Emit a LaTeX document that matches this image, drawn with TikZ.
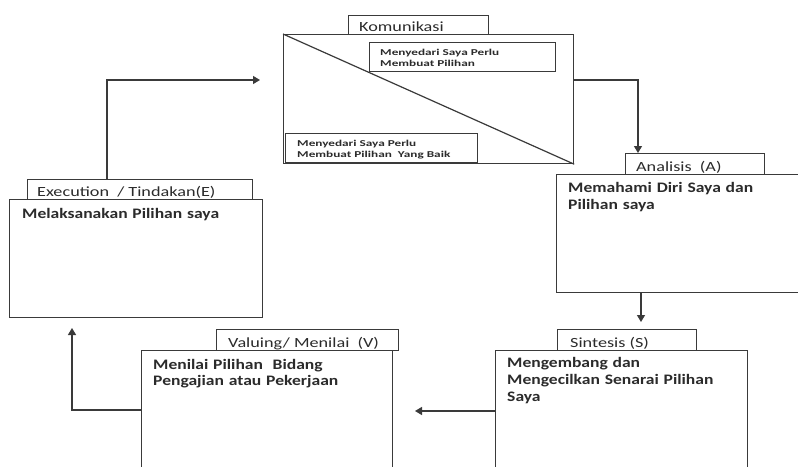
\documentclass[tikz,border=0pt]{standalone}
\usepackage{fontspec}
\setmainfont{Carlito}
\newfontfamily\labfont{Carlito}[FakeStretch=1.3]
\newfontfamily\bodyfont{Carlito}[FakeStretch=1.21]
\newfontfamily\smallfont{Carlito}[FakeStretch=1.47]
\usetikzlibrary{arrows.meta}
\definecolor{ln}{HTML}{3A3A3A}
\definecolor{tx}{HTML}{2B2B2B}
\tikzset{
  box/.style={draw=ln,line width=1.2pt,fill=white,inner sep=0pt,anchor=north west},
  arr/.style={draw=ln,line width=1.2pt,-{Triangle[length=7pt,width=8pt]}},
  plain/.style={draw=ln,line width=1.2pt},
  labtxt/.style={anchor=base west,inner sep=0pt,text=tx,font=\labfont\fontsize{14}{16}\selectfont},
  bodytxt/.style={anchor=base west,inner sep=0pt,text=tx,text width=260pt,align=left,
    font=\bodyfont\bfseries\fontsize{14.5}{16.8}\selectfont},
  smalltxt/.style={anchor=base west,inner sep=0pt,text=tx,text width=200pt,align=left,
    font=\smallfont\bfseries\fontsize{9}{11.3}\selectfont}
}
\begin{document}
\begin{tikzpicture}[x=1pt,y=-1pt]
\useasboundingbox (0,0) rectangle (798,466);
\clip (0,0) rectangle (798,466);
% Komunikasi
\node[box,minimum width=140pt,minimum height=20pt] (klab) at (348,15) {};
\node[box,minimum width=290pt,minimum height=129pt] (kbox) at (283,34) {};
\draw[plain] (kbox.north west) -- (kbox.south east);
\node[box,minimum width=186pt,minimum height=29pt] (kin1) at (369,42) {};
\node[box,minimum width=192pt,minimum height=29pt] (kin2) at (285,133) {};
\node[labtxt] (kt) at (359,31.5) {Komunikasi};
\node[smalltxt] (k1t) at (380,55) {Menyedari Saya Perlu\\Membuat Pilihan};
\node[smalltxt] (k2t) at (297,146.5) {Menyedari Saya Perlu\\Membuat Pilihan\ \ Yang Baik};
% Analisis
\node[box,minimum width=139pt,minimum height=21pt] (alab) at (625,153) {};
\node[box,minimum width=260pt,minimum height=118pt] (abox) at (556,174) {};
\node[labtxt] (at) at (636,171.5) {Analisis\ \ (A)};
\node[bodytxt] (abt) at (568,192.5) {Memahami Diri Saya dan\\Pilihan saya};
% Sintesis
\node[box,minimum width=139pt,minimum height=21pt] (slab) at (557,329) {};
\node[box,minimum width=252pt,minimum height=130pt] (sbox) at (495,350) {};
\node[labtxt] (st) at (570,347.5) {Sintesis (S)};
\node[bodytxt] (sbt) at (507,367.5) {Mengembang dan\\Mengecilkan Senarai Pilihan\\Saya};
% Valuing
\node[box,minimum width=182pt,minimum height=21pt] (vlab) at (216,329) {};
\node[box,minimum width=251pt,minimum height=130pt] (vbox) at (141,350) {};
\node[labtxt] (vt) at (228,347) {Valuing/ Menilai\ \ (V)};
\node[bodytxt] (vbt) at (153,369) {Menilai Pilihan\ \ Bidang\\Pengajian atau Pekerjaan};
% Execution
\node[box,minimum width=225pt,minimum height=20pt] (elab) at (27,179) {};
\node[box,minimum width=253pt,minimum height=118pt] (ebox) at (9,199) {};
\node[labtxt] (et) at (37,196.5) {Execution\ \ / Tindakan(E)};
\node[bodytxt] (ebt) at (22,218) {Melaksanakan Pilihan saya};
% connectors
\coordinate (sv) at (415,411);
\coordinate (ve) at (72,328);
\coordinate (ek) at (260,80);
\draw[arr] ([yshift=-46pt]kbox.north east) -| ([xshift=13pt]alab.north west);
\draw[arr] ([xshift=85pt]abox.south west) -- ([xshift=84pt,yshift=7pt]slab.north west);
\draw[arr] ([yshift=-61pt]sbox.north west) -- (sv);
\draw[arr] ([yshift=-60pt]vbox.north west) -| (ve);
\draw[arr] ([xshift=80pt]elab.north west) |- (ek);
\end{tikzpicture}
\end{document}
